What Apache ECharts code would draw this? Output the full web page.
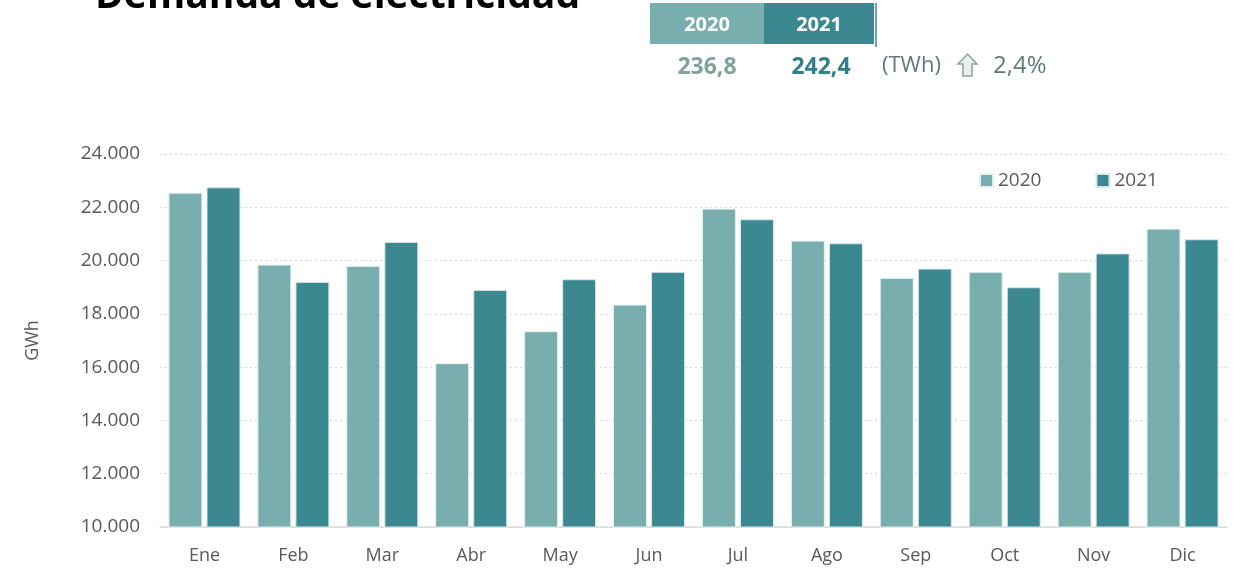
<!DOCTYPE html>
<html>
<head>
<meta charset="utf-8">
<script src="https://cdn.jsdelivr.net/npm/echarts@6/dist/echarts.min.js"></script>
<style>
  html, body { margin: 0; padding: 0; background: #fff; }
  #chart { width: 1235px; height: 569px; }
</style>
</head>
<body>
<div id="chart"></div>
<script>
// monthly electricity demand, GWh
const months = ['Ene', 'Feb', 'Mar', 'Abr', 'May', 'Jun', 'Jul', 'Ago', 'Sep', 'Oct', 'Nov', 'Dic'];
const years = ['2020', '2021'];
const demand2020 = [22550, 19850, 19800, 16150, 17350, 18350, 21950, 20750, 19350, 19580, 19580, 21200];
const demand2021 = [22750, 19200, 20700, 18900, 19300, 19580, 21550, 20650, 19700, 19000, 20270, 20800];
// annual totals, TWh
const totals = ['236,8', '242,4'];
const change = '2,4%';

const colors = ['#79aeae', '#3b8891'];
const txt = '#595959';
const font = 'Open Sans';

const chart = echarts.init(document.getElementById('chart'));

function thousands(v) {
  return String(v).replace(/\B(?=(\d{3})+(?!\d))/g, '.');
}

const option = {
  animation: false,
  textStyle: { fontFamily: font },
  grid: { left: 160, right: 8, top: 154, bottom: 42 },
  legend: {
    data: years,
    left: 974,
    top: 166,
    icon: 'rect',
    itemWidth: 13,
    itemHeight: 13,
    itemGap: 54,
    textStyle: { color: txt, fontSize: 19, fontFamily: font },
  },
  xAxis: {
    type: 'category',
    data: months,
    axisLine: { lineStyle: { color: '#d9d9d9', width: 1.5 } },
    axisTick: { show: false },
    axisLabel: { color: txt, fontSize: 18, margin: 20, fontFamily: font },
  },
  yAxis: {
    type: 'value',
    min: 10000,
    max: 24000,
    interval: 2000,
    name: 'GWh',
    nameLocation: 'middle',
    nameGap: 118,
    nameTextStyle: { color: txt, fontSize: 18, fontFamily: font },
    axisLabel: { color: txt, fontSize: 19, margin: 20, formatter: thousands, fontFamily: font },
    splitLine: { lineStyle: { color: '#d9d9d9', type: [2, 3] } },
  },
  series: [
    {
      name: years[0],
      type: 'bar',
      data: demand2020,
      barGap: '12%',
      barCategoryGap: '19%',
      itemStyle: { color: colors[0], borderColor: '#e6f0f0', borderWidth: 1 },
    },
    {
      name: years[1],
      type: 'bar',
      data: demand2021,
      itemStyle: { color: colors[1], borderColor: '#d8e8ea', borderWidth: 1 },
    },
  ],
  graphic: [
    // title, cut off by the top edge
    {
      type: 'text', left: 95, top: -23,
      style: { text: 'Demanda de electricidad', font: 'bold 39px "Open Sans"', fill: '#000' },
    },
    // totals box
    { type: 'rect', shape: { x: 650, y: 3, width: 114, height: 41 }, style: { fill: colors[0] } },
    { type: 'rect', shape: { x: 764, y: 3, width: 110, height: 41 }, style: { fill: colors[1] } },
    { type: 'line', shape: { x1: 876, y1: 3, x2: 876, y2: 47 }, style: { stroke: colors[1], lineWidth: 1.5 } },
    {
      type: 'text', x: 707, y: 25,
      style: { text: years[0], font: 'bold 20px "Open Sans"', fill: '#fff', align: 'center', verticalAlign: 'middle' },
    },
    {
      type: 'text', x: 819, y: 25,
      style: { text: years[1], font: 'bold 20px "Open Sans"', fill: '#fff', align: 'center', verticalAlign: 'middle' },
    },
    {
      type: 'text', x: 707, y: 67,
      style: { text: totals[0], font: 'bold 23px "Open Sans"', fill: '#7fa39c', align: 'center', verticalAlign: 'middle' },
    },
    {
      type: 'text', x: 821, y: 67,
      style: { text: totals[1], font: 'bold 23px "Open Sans"', fill: '#2f8088', align: 'center', verticalAlign: 'middle' },
    },
    {
      type: 'text', x: 882, y: 66,
      style: { text: '(TWh)', font: '22px "Open Sans"', fill: '#5f7c77', verticalAlign: 'middle' },
    },
    {
      type: 'polygon',
      shape: { points: [[967.5, 54], [977, 64], [972, 64], [972, 76], [963, 76], [963, 64], [958, 64]] },
      style: { fill: '#e9efed', stroke: '#8aa39e', lineWidth: 1.5 },
    },
    {
      type: 'text', x: 993, y: 66,
      style: { text: change, font: '24px "Open Sans"', fill: '#5f7c77', verticalAlign: 'middle' },
    },
  ],
};

chart.setOption(option);
</script>
</body>
</html>
